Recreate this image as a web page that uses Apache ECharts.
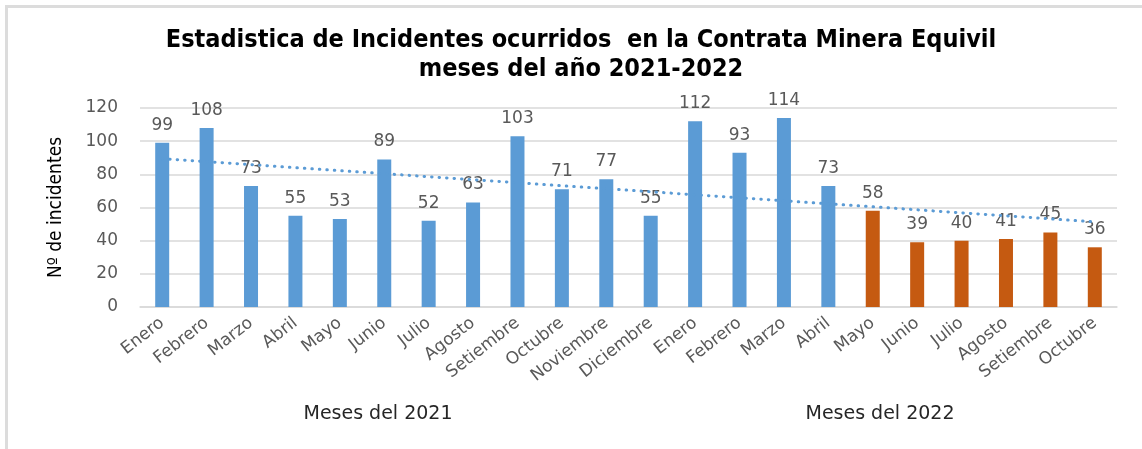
<!DOCTYPE html>
<html><head><meta charset="utf-8">
<script src="https://cdn.jsdelivr.net/npm/echarts@6/dist/echarts.min.js"></script>
<style>html,body{margin:0;padding:0;background:#fff}#c{width:1142px;height:449px}</style>
</head><body><div id="c"></div>
<script>
const months = ["Enero","Febrero","Marzo","Abril","Mayo","Junio","Julio","Agosto","Setiembre","Octubre","Noviembre","Diciembre","Enero","Febrero","Marzo","Abril","Mayo","Junio","Julio","Agosto","Setiembre","Octubre"];
const incidents = [99,108,73,55,53,89,52,63,103,71,77,55,112,93,114,73,58,39,40,41,45,36];
const barColorGroup = ["a","a","a","a","a","a","a","a","a","a","a","a","a","a","a","a","b","b","b","b","b","b"];
const yTicks = [0,20,40,60,80,100,120];
const groupLabels = ["Meses del 2021","Meses del 2022"];

const colors = {a:"#5B9BD5", b:"#C55A11"};
// linear trendline (least squares) of the data, as in the original chart
const n = incidents.length;
const mx = (n-1)/2;
const my = incidents.reduce((s,v)=>s+v,0)/n;
let sxy=0,sxx=0;
incidents.forEach((v,i)=>{sxy+=(i-mx)*(v-my);sxx+=(i-mx)*(i-mx);});
const slope=sxy/sxx, icpt=my-slope*mx;
const trend = incidents.map((v,i)=>+(icpt+slope*i).toFixed(3));

const chart = echarts.init(document.getElementById('c'), null, {renderer:'canvas'});
const numFont = "DejaVu Sans";
const condFont = "'DejaVu Sans Condensed','Liberation Sans Narrow',sans-serif";
chart.setOption({
  animation:false,
  backgroundColor:'#fff',
  title:{
    text:"Estadistica de Incidentes ocurridos  en la Contrata Minera Equivil\nmeses del año 2021-2022",
    left:576, textAlign:'center', top:21,
    textStyle:{fontFamily:condFont, fontWeight:'bold', fontSize:25, lineHeight:29, color:'#000'}
  },
  grid:{left:140, right:25, top:108, bottom:142},
  xAxis:{
    type:'category', data:months,
    axisLine:{lineStyle:{color:'#d9d9d9', width:1.5}},
    axisTick:{show:false},
    axisLabel:{rotate:38, interval:0, color:'#595959', fontFamily:numFont, fontSize:17, margin:14}
  },
  yAxis:{
    type:'value', min:0, max:120, interval:20,
    name:"Nº de incidentes", nameLocation:'middle', nameGap:74, nameRotate:90,
    nameTextStyle:{fontFamily:condFont, fontSize:19, color:'#000'},
    axisLine:{show:false}, axisTick:{show:false},
    splitLine:{lineStyle:{color:'#d9d9d9', width:1.5}},
    axisLabel:{color:'#595959', fontFamily:numFont, fontSize:17, margin:22,
      formatter:v=>yTicks.includes(v)?String(v):''}
  },
  series:[
    {type:'bar', barWidth:14,
     data:incidents.map((v,i)=>({value:v,itemStyle:{color:colors[barColorGroup[i]]}})),
     label:{show:true, position:'top', distance:9, color:'#595959', fontFamily:numFont, fontSize:17}},
    {type:'line', data:trend, symbol:'none', silent:true, z:5,
     lineStyle:{color:'#5B9BD5', width:3, type:[0.5,7], cap:'round'}}
  ],
  graphic:[
    {type:'rect', shape:{x:5,y:5,width:1137,height:3}, style:{fill:'#dcdcdc'}, silent:true},
    {type:'rect', shape:{x:5,y:5,width:3,height:444}, style:{fill:'#dcdcdc'}, silent:true},
    {type:'text', x:378, y:414, style:{text:groupLabels[0], fontFamily:numFont, fontSize:19, fill:'#262626', align:'center', verticalAlign:'middle'}},
    {type:'text', x:880, y:414, style:{text:groupLabels[1], fontFamily:numFont, fontSize:19, fill:'#262626', align:'center', verticalAlign:'middle'}}
  ]
});
</script></body></html>
